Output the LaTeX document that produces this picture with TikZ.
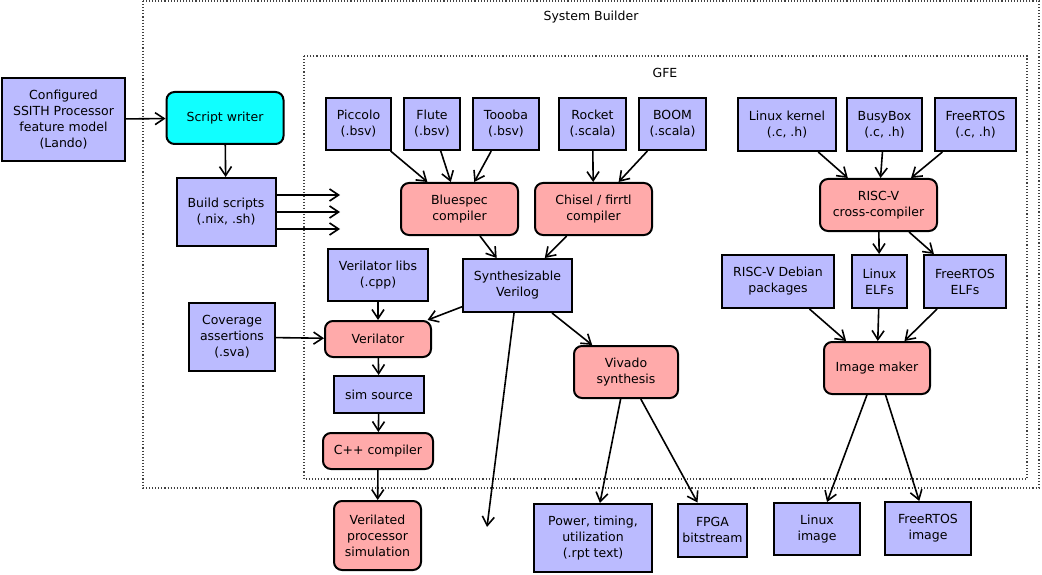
\documentclass[tikz,border=0pt]{standalone}
\usepackage{fontspec}
\setmainfont{DejaVu Sans}
\usetikzlibrary{arrows.meta}
\definecolor{srcblue}{RGB}{187,187,255}
\definecolor{toolpink}{RGB}{255,170,170}
\definecolor{scriptcyan}{RGB}{16,255,255}
\tikzset{
  srcbox/.style={draw, fill=srcblue, rectangle, line width=2pt, align=center, inner sep=0pt},
  toolbox/.style={draw, fill=toolpink, rectangle, rounded corners=8pt, line width=2pt, align=center, inner sep=0pt},
  flow/.style={-{Straight Barb[length=9pt,width=12pt,line width=1.6pt]}, line width=1.6pt},
  region/.style={draw=black!75, dotted, line width=1.1pt}
}
\begin{document}
\begin{tikzpicture}[x=1pt, y=-1pt, font=\fontsize{12.5}{16}\selectfont]
\fill[white] (0,0) rectangle (1042,575);
\useasboundingbox (0,0) rectangle (1042,575);

\draw[region] (143,1) rectangle (1039,488);
\draw[region] (304,56) rectangle (1027,479);
\node (sblabel) at (591,17) {System Builder};
\node (gfelabel) at (665,73) {GFE};

\node[srcbox, minimum width=123pt, minimum height=83pt] (lando) at (63.5,119.5) {Configured\\SSITH Processor\\feature model\\(Lando)};
\node[toolbox, fill=scriptcyan, minimum width=117pt, minimum height=52pt] (script) at (225,118) {Script writer};
\node[srcbox, minimum width=99pt, minimum height=68pt] (build) at (226,212) {Build scripts\\(.nix, .sh)};

\node[srcbox, minimum width=65pt, minimum height=52pt] (piccolo) at (358.5,124) {Piccolo\\(.bsv)};
\node[srcbox, minimum width=56pt, minimum height=52pt] (flute) at (432,124) {Flute\\(.bsv)};
\node[srcbox, minimum width=66pt, minimum height=52pt] (toooba) at (506,124) {Toooba\\(.bsv)};
\node[srcbox, minimum width=67pt, minimum height=52pt] (rocket) at (592.5,124) {Rocket\\(.scala)};
\node[srcbox, minimum width=67pt, minimum height=52pt] (boom) at (672.5,124) {BOOM\\(.scala)};

\node[toolbox, minimum width=117pt, minimum height=52pt] (bluespec) at (459.5,209) {Bluespec\\compiler};
\node[toolbox, minimum width=117pt, minimum height=52pt] (chisel) at (593.5,209) {Chisel / firrtl\\compiler};
\node[srcbox, minimum width=109pt, minimum height=53pt] (verilog) at (517.5,285.5) {Synthesizable\\Verilog};

\node[srcbox, minimum width=100pt, minimum height=52pt] (verilibs) at (378,275) {Verilator libs\\(.cpp)};
\node[srcbox, minimum width=86pt, minimum height=68pt] (coverage) at (232,337) {Coverage\\assertions\\(.sva)};
\node[toolbox, minimum width=106pt, minimum height=36pt] (verilator) at (378,339) {Verilator};
\node[srcbox, minimum width=90pt, minimum height=37pt] (simsrc) at (379,394.5) {sim source};
\node[toolbox, minimum width=110pt, minimum height=36pt] (cppcomp) at (378,451) {C++ compiler};
\node[toolbox, minimum width=87pt, minimum height=69pt] (verisim) at (377.5,535.5) {Verilated\\processor\\simulation};

\node[toolbox, minimum width=104pt, minimum height=52pt] (vivado) at (626,372) {Vivado\\synthesis};
\node[srcbox, minimum width=118pt, minimum height=68pt] (report) at (593,538) {Power, timing,\\utilization\\(.rpt text)};
\node[srcbox, minimum width=69pt, minimum height=53pt] (bitstream) at (712.5,530) {FPGA\\bitstream};

\node[srcbox, minimum width=98pt, minimum height=53pt] (kernel) at (787,124.5) {Linux kernel\\(.c, .h)};
\node[srcbox, minimum width=75pt, minimum height=53pt] (busybox) at (884.5,124.5) {BusyBox\\(.c, .h)};
\node[srcbox, minimum width=81pt, minimum height=53pt] (freertos) at (975.5,124.5) {FreeRTOS\\(.c, .h)};
\node[toolbox, minimum width=117pt, minimum height=52pt] (crosscc) at (878.5,205) {RISC-V\\cross-compiler};
\node[srcbox, minimum width=112pt, minimum height=53pt] (debian) at (778,281.5) {RISC-V Debian\\packages};
\node[srcbox, minimum width=55pt, minimum height=53pt] (linuxelf) at (879.5,281.5) {Linux\\ELFs};
\node[srcbox, minimum width=82pt, minimum height=53pt] (rtoself) at (965,281.5) {FreeRTOS\\ELFs};
\node[toolbox, minimum width=106pt, minimum height=52pt] (imgmaker) at (877,368) {Image maker};
\node[srcbox, minimum width=86pt, minimum height=52pt] (linuximg) at (817,529) {Linux\\image};
\node[srcbox, minimum width=86pt, minimum height=53pt] (rtosimg) at (928,528.5) {FreeRTOS\\image};

\coordinate (out1) at (340,195);
\coordinate (out2) at (340,212);
\coordinate (out3) at (340,229);
\coordinate (vout) at (487,527);

\draw[flow] (lando) to (script);
\draw[flow] (script) to (build);
\draw[flow] (build.east |- out1) to (out1);
\draw[flow] (build.east |- out2) to (out2);
\draw[flow] (build.east |- out3) to (out3);

\draw[flow] (piccolo) to (bluespec);
\draw[flow] (flute) to (bluespec);
\draw[flow] (toooba) to (bluespec);
\draw[flow] (rocket) to (chisel);
\draw[flow] (boom) to (chisel);
\draw[flow] (bluespec) to (verilog);
\draw[flow] (chisel) to (verilog);

\draw[flow] (verilog) to (verilator);
\draw[flow] (verilog) to (vivado);
\draw[flow] (verilog) to (vout);
\draw[flow] (verilibs) to (verilator);
\draw[flow] (coverage) to (verilator);
\draw[flow] (verilator) to (simsrc);
\draw[flow] (simsrc) to (cppcomp);
\draw[flow] (cppcomp) to (verisim);
\draw[flow] (vivado) to (report);
\draw[flow] (vivado) to (bitstream);

\draw[flow] (kernel) to (crosscc);
\draw[flow] (busybox) to (crosscc);
\draw[flow] (freertos) to (crosscc);
\draw[flow] (crosscc) to (linuxelf);
\draw[flow] (crosscc) to (rtoself);
\draw[flow] (debian) to (imgmaker);
\draw[flow] (linuxelf) to (imgmaker);
\draw[flow] (rtoself) to (imgmaker);
\draw[flow] (imgmaker) to (linuximg);
\draw[flow] (imgmaker) to (rtosimg);
\end{tikzpicture}
\end{document}
